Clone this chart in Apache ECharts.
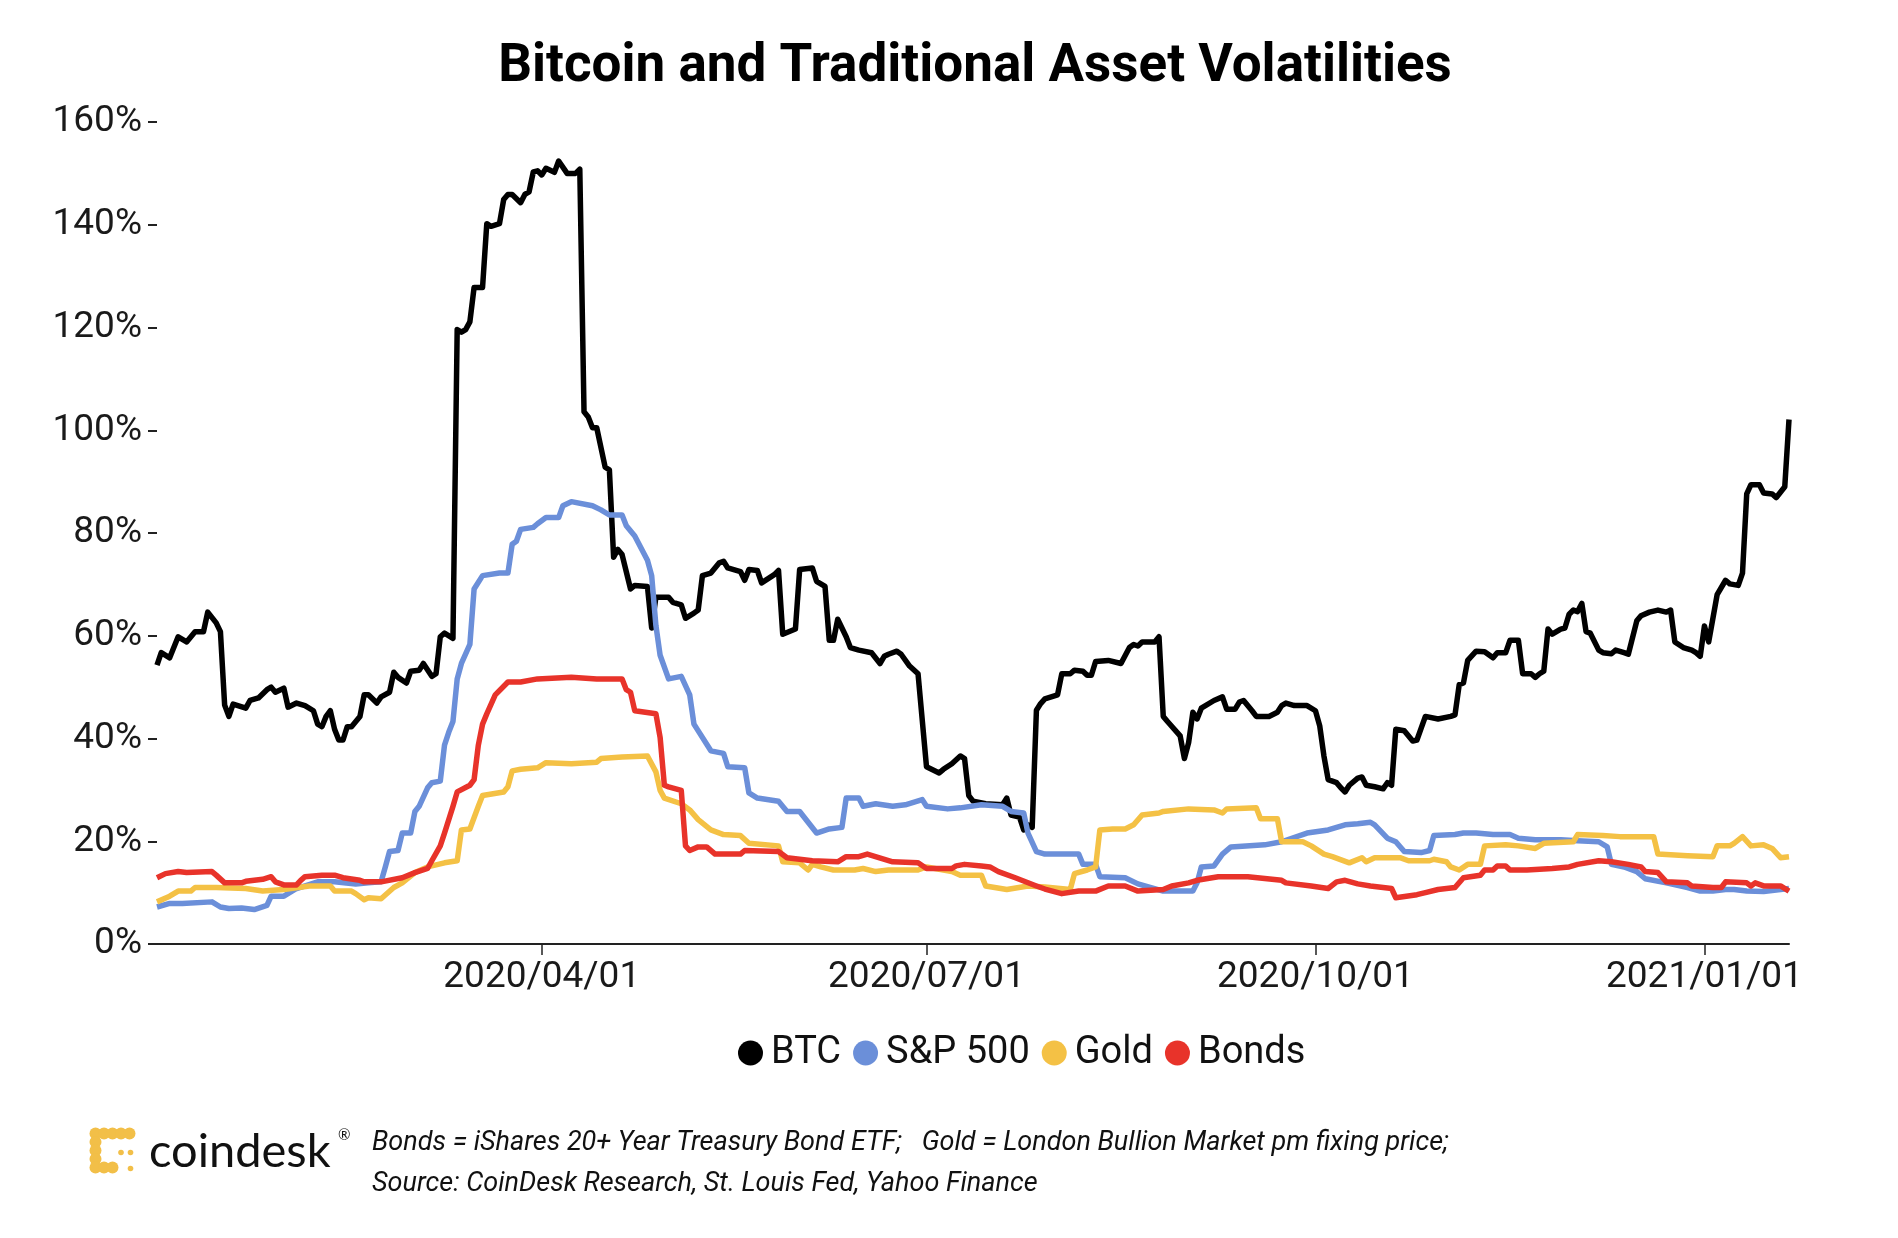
<!DOCTYPE html>
<html><head><meta charset="utf-8">
<script src="https://cdn.jsdelivr.net/npm/echarts@6/dist/echarts.min.js"></script>
<style>html,body{margin:0;padding:0;background:#fff}#c{width:1898px;height:1238px}</style>
</head><body><div id="c"></div>
<script>
const titleText = 'Bitcoin and Traditional Asset Volatilities';
const seriesNames = ['BTC', 'S&P 500', 'Gold', 'Bonds'];
const seriesColors = ['#000000', '#6b8fd9', '#f4c145', '#e8332a'];
const xTickDates = ['2020-04-01', '2020-07-01', '2020-10-01', '2021-01-01'];
const xRange = ['2020-01-01', '2021-01-21'];
const footLine1 = 'Bonds = iShares 20+ Year Treasury Bond ETF;   Gold = London Bullion Market pm fixing price;';
const footLine2 = 'Source: CoinDesk Research, St. Louis Fed, Yahoo Finance';

const btc = [['2020-01-01',54.3],['2020-01-02',56.7],['2020-01-04',55.7],['2020-01-06',59.8],['2020-01-08',58.8],['2020-01-10',60.8],['2020-01-12',60.8],['2020-01-13',64.6],['2020-01-15',62.5],['2020-01-16',60.8],['2020-01-17',46.5],['2020-01-18',44.3],['2020-01-19',46.7],['2020-01-22',45.9],['2020-01-23',47.4],['2020-01-25',47.9],['2020-01-27',49.5],['2020-01-28',50.0],['2020-01-29',49.0],['2020-01-31',49.8],['2020-02-01',46.1],['2020-02-03',46.9],['2020-02-05',46.4],['2020-02-07',45.4],['2020-02-08',42.8],['2020-02-09',42.3],['2020-02-10',44.3],['2020-02-11',45.4],['2020-02-12',41.8],['2020-02-13',39.7],['2020-02-14',39.7],['2020-02-15',42.3],['2020-02-16',42.3],['2020-02-18',44.3],['2020-02-19',48.5],['2020-02-20',48.5],['2020-02-22',46.9],['2020-02-23',48.1],['2020-02-25',49.0],['2020-02-26',52.9],['2020-02-27',51.9],['2020-02-29',50.8],['2020-03-01',53.1],['2020-03-03',53.3],['2020-03-04',54.6],['2020-03-06',52.1],['2020-03-07',52.6],['2020-03-08',59.8],['2020-03-09',60.5],['2020-03-11',59.5],['2020-03-12',119.6],['2020-03-13',119.1],['2020-03-14',119.6],['2020-03-15',121.1],['2020-03-16',127.8],['2020-03-18',127.8],['2020-03-19',140.2],['2020-03-20',139.7],['2020-03-22',140.2],['2020-03-23',144.9],['2020-03-24',145.9],['2020-03-25',145.9],['2020-03-27',144.3],['2020-03-28',145.9],['2020-03-29',146.4],['2020-03-30',150.3],['2020-03-31',150.5],['2020-04-01',149.7],['2020-04-02',151.0],['2020-04-04',150.2],['2020-04-05',152.4],['2020-04-07',150.0],['2020-04-09',150.0],['2020-04-10',150.8],['2020-04-11',103.6],['2020-04-12',102.6],['2020-04-13',100.5],['2020-04-14',100.5],['2020-04-16',92.8],['2020-04-17',92.3],['2020-04-18',75.3],['2020-04-19',76.8],['2020-04-20',75.8],['2020-04-22',69.1],['2020-04-23',69.8],['2020-04-26',69.6],['2020-04-27',61.5],['2020-04-28',67.5],['2020-05-01',67.5],['2020-05-02',66.5],['2020-05-04',66.0],['2020-05-05',63.4],['2020-05-07',64.4],['2020-05-08',65.0],['2020-05-09',71.7],['2020-05-11',72.2],['2020-05-13',74.2],['2020-05-14',74.5],['2020-05-15',73.2],['2020-05-18',72.5],['2020-05-19',70.8],['2020-05-20',72.9],['2020-05-22',72.7],['2020-05-23',70.3],['2020-05-26',71.9],['2020-05-27',72.7],['2020-05-28',60.3],['2020-05-31',61.3],['2020-06-01',72.9],['2020-06-04',73.2],['2020-06-05',70.6],['2020-06-07',69.6],['2020-06-08',59.1],['2020-06-09',59.1],['2020-06-10',63.2],['2020-06-12',59.8],['2020-06-13',57.7],['2020-06-15',57.2],['2020-06-18',56.7],['2020-06-20',54.6],['2020-06-21',56.0],['2020-06-22',56.4],['2020-06-24',57.0],['2020-06-25',56.4],['2020-06-27',54.1],['2020-06-29',52.6],['2020-07-01',34.5],['2020-07-04',33.3],['2020-07-05',34.0],['2020-07-07',35.1],['2020-07-09',36.6],['2020-07-10',36.1],['2020-07-11',28.9],['2020-07-12',27.8],['2020-07-15',27.3],['2020-07-19',27.1],['2020-07-20',28.4],['2020-07-21',25.1],['2020-07-23',24.7],['2020-07-24',22.2],['2020-07-25',23.2],['2020-07-26',22.7],['2020-07-27',45.5],['2020-07-28',46.8],['2020-07-29',47.7],['2020-08-01',48.5],['2020-08-02',52.6],['2020-08-04',52.6],['2020-08-05',53.3],['2020-08-07',53.1],['2020-08-08',52.3],['2020-08-09',52.3],['2020-08-10',55.0],['2020-08-13',55.2],['2020-08-16',54.6],['2020-08-18',57.7],['2020-08-19',58.3],['2020-08-20',58.0],['2020-08-21',58.8],['2020-08-24',58.8],['2020-08-25',59.8],['2020-08-26',44.3],['2020-08-27',43.3],['2020-08-30',40.5],['2020-08-31',36.1],['2020-09-01',39.2],['2020-09-02',45.1],['2020-09-03',43.8],['2020-09-04',45.9],['2020-09-07',47.4],['2020-09-09',48.1],['2020-09-10',45.7],['2020-09-12',45.7],['2020-09-13',47.1],['2020-09-14',47.4],['2020-09-16',45.4],['2020-09-17',44.3],['2020-09-20',44.3],['2020-09-22',45.1],['2020-09-23',46.4],['2020-09-24',46.9],['2020-09-26',46.4],['2020-09-29',46.4],['2020-10-01',45.4],['2020-10-02',42.5],['2020-10-03',36.6],['2020-10-04',32.0],['2020-10-06',31.4],['2020-10-07',30.4],['2020-10-08',29.6],['2020-10-09',30.9],['2020-10-11',32.3],['2020-10-12',32.5],['2020-10-13',30.9],['2020-10-15',30.6],['2020-10-17',30.2],['2020-10-18',31.4],['2020-10-19',30.9],['2020-10-20',41.8],['2020-10-22',41.5],['2020-10-24',39.5],['2020-10-25',39.7],['2020-10-27',44.3],['2020-10-30',43.8],['2020-11-02',44.3],['2020-11-03',44.6],['2020-11-04',50.5],['2020-11-05',50.8],['2020-11-06',55.2],['2020-11-08',57.0],['2020-11-10',56.9],['2020-11-12',55.7],['2020-11-13',56.7],['2020-11-15',56.7],['2020-11-16',59.1],['2020-11-18',59.1],['2020-11-19',52.6],['2020-11-21',52.6],['2020-11-22',51.9],['2020-11-23',52.6],['2020-11-24',53.1],['2020-11-25',61.3],['2020-11-26',60.3],['2020-11-28',61.3],['2020-11-29',61.5],['2020-11-30',64.2],['2020-12-01',65.0],['2020-12-02',64.7],['2020-12-03',66.3],['2020-12-04',60.8],['2020-12-05',60.5],['2020-12-07',57.2],['2020-12-08',56.7],['2020-12-10',56.5],['2020-12-11',57.2],['2020-12-13',56.7],['2020-12-14',56.4],['2020-12-16',62.9],['2020-12-17',63.9],['2020-12-19',64.6],['2020-12-21',65.0],['2020-12-23',64.6],['2020-12-24',65.0],['2020-12-25',58.8],['2020-12-27',57.7],['2020-12-29',57.2],['2020-12-30',56.7],['2020-12-31',56.0],['2021-01-01',61.9],['2021-01-02',58.8],['2021-01-04',68.0],['2021-01-06',70.8],['2021-01-07',70.1],['2021-01-09',69.8],['2021-01-10',72.2],['2021-01-11',87.6],['2021-01-12',89.4],['2021-01-14',89.4],['2021-01-15',87.8],['2021-01-17',87.6],['2021-01-18',86.9],['2021-01-20',89.0],['2021-01-21',102.1]];

const sp500 = [['2020-01-01',7.2],['2020-01-04',7.9],['2020-01-07',7.9],['2020-01-14',8.2],['2020-01-16',7.2],['2020-01-18',6.9],['2020-01-21',7.0],['2020-01-24',6.7],['2020-01-27',7.5],['2020-01-28',9.3],['2020-01-31',9.3],['2020-02-03',10.8],['2020-02-08',12.1],['2020-02-12',12.1],['2020-02-17',11.7],['2020-02-20',11.9],['2020-02-23',12.1],['2020-02-24',15.0],['2020-02-25',18.0],['2020-02-27',18.2],['2020-02-28',21.6],['2020-03-01',21.6],['2020-03-02',25.8],['2020-03-03',26.8],['2020-03-05',30.4],['2020-03-06',31.4],['2020-03-08',31.7],['2020-03-09',38.7],['2020-03-10',41.2],['2020-03-11',43.3],['2020-03-12',51.6],['2020-03-13',54.6],['2020-03-15',58.3],['2020-03-16',69.1],['2020-03-18',71.7],['2020-03-22',72.2],['2020-03-24',72.2],['2020-03-25',77.8],['2020-03-26',78.4],['2020-03-27',80.7],['2020-03-30',81.1],['2020-03-31',81.8],['2020-04-02',83.0],['2020-04-05',83.0],['2020-04-06',85.3],['2020-04-08',86.1],['2020-04-13',85.3],['2020-04-15',84.5],['2020-04-17',83.5],['2020-04-20',83.5],['2020-04-21',81.4],['2020-04-23',79.4],['2020-04-26',74.7],['2020-04-27',71.7],['2020-04-28',62.0],['2020-04-29',56.2],['2020-05-01',51.6],['2020-05-04',52.1],['2020-05-06',48.5],['2020-05-07',42.8],['2020-05-11',37.6],['2020-05-14',37.1],['2020-05-15',34.5],['2020-05-19',34.3],['2020-05-20',29.4],['2020-05-22',28.4],['2020-05-27',27.8],['2020-05-29',25.8],['2020-06-01',25.8],['2020-06-03',23.7],['2020-06-05',21.6],['2020-06-08',22.4],['2020-06-11',22.7],['2020-06-12',28.4],['2020-06-15',28.4],['2020-06-16',26.8],['2020-06-19',27.3],['2020-06-23',26.8],['2020-06-26',27.1],['2020-06-30',28.1],['2020-07-01',26.8],['2020-07-06',26.3],['2020-07-09',26.5],['2020-07-14',27.1],['2020-07-19',26.8],['2020-07-21',25.8],['2020-07-24',25.5],['2020-07-25',21.6],['2020-07-27',18.0],['2020-07-29',17.5],['2020-08-06',17.5],['2020-08-07',15.5],['2020-08-10',15.5],['2020-08-11',13.1],['2020-08-17',12.9],['2020-08-20',11.7],['2020-08-26',10.3],['2020-09-02',10.3],['2020-09-03',11.9],['2020-09-04',15.0],['2020-09-07',15.2],['2020-09-09',17.5],['2020-09-11',18.9],['2020-09-19',19.3],['2020-09-23',19.9],['2020-09-29',21.6],['2020-10-04',22.2],['2020-10-08',23.2],['2020-10-11',23.4],['2020-10-14',23.7],['2020-10-15',23.2],['2020-10-18',20.6],['2020-10-20',19.9],['2020-10-22',18.0],['2020-10-26',17.8],['2020-10-28',18.2],['2020-10-29',21.1],['2020-11-03',21.3],['2020-11-05',21.6],['2020-11-08',21.6],['2020-11-12',21.3],['2020-11-16',21.3],['2020-11-18',20.6],['2020-11-22',20.3],['2020-11-28',20.3],['2020-12-02',20.1],['2020-12-07',19.9],['2020-12-09',18.9],['2020-12-10',15.5],['2020-12-13',15.0],['2020-12-16',14.1],['2020-12-18',12.7],['2020-12-23',11.9],['2020-12-28',11.0],['2020-12-31',10.3],['2021-01-03',10.3],['2021-01-06',10.6],['2021-01-08',10.6],['2021-01-11',10.3],['2021-01-15',10.2],['2021-01-21',10.8]];

const gold = [['2020-01-01',8.2],['2020-01-04',9.3],['2020-01-06',10.3],['2020-01-09',10.3],['2020-01-10',11.0],['2020-01-15',11.0],['2020-01-22',10.8],['2020-01-26',10.3],['2020-01-31',10.6],['2020-02-06',11.3],['2020-02-11',11.3],['2020-02-12',10.3],['2020-02-16',10.3],['2020-02-17',9.8],['2020-02-19',8.6],['2020-02-20',9.0],['2020-02-23',8.8],['2020-02-26',11.0],['2020-02-28',11.9],['2020-03-02',13.9],['2020-03-05',15.0],['2020-03-09',15.8],['2020-03-12',16.2],['2020-03-13',22.2],['2020-03-15',22.4],['2020-03-17',26.8],['2020-03-18',28.9],['2020-03-23',29.6],['2020-03-24',30.6],['2020-03-25',33.7],['2020-03-27',34.0],['2020-03-31',34.3],['2020-04-02',35.3],['2020-04-08',35.1],['2020-04-14',35.4],['2020-04-15',36.1],['2020-04-20',36.4],['2020-04-26',36.6],['2020-04-28',33.5],['2020-04-29',29.9],['2020-04-30',28.4],['2020-05-04',27.3],['2020-05-06',26.1],['2020-05-08',24.2],['2020-05-11',22.2],['2020-05-14',21.3],['2020-05-18',21.1],['2020-05-20',19.6],['2020-05-27',19.1],['2020-05-28',16.0],['2020-06-01',15.8],['2020-06-03',14.4],['2020-06-04',15.5],['2020-06-06',15.0],['2020-06-09',14.4],['2020-06-14',14.4],['2020-06-16',14.7],['2020-06-19',14.1],['2020-06-22',14.4],['2020-06-29',14.4],['2020-07-01',15.0],['2020-07-07',14.1],['2020-07-09',13.4],['2020-07-14',13.4],['2020-07-15',11.3],['2020-07-20',10.6],['2020-07-25',11.3],['2020-07-29',11.1],['2020-08-04',10.6],['2020-08-05',13.7],['2020-08-08',14.4],['2020-08-10',15.0],['2020-08-11',22.2],['2020-08-14',22.4],['2020-08-17',22.4],['2020-08-19',23.2],['2020-08-21',25.1],['2020-08-25',25.5],['2020-08-26',25.8],['2020-09-01',26.3],['2020-09-07',26.1],['2020-09-09',25.5],['2020-09-10',26.3],['2020-09-17',26.5],['2020-09-18',24.4],['2020-09-22',24.4],['2020-09-23',19.9],['2020-09-28',19.9],['2020-09-30',19.1],['2020-10-03',17.5],['2020-10-05',17.0],['2020-10-09',15.8],['2020-10-12',16.8],['2020-10-13',16.0],['2020-10-15',16.8],['2020-10-21',16.8],['2020-10-23',16.2],['2020-10-28',16.2],['2020-10-29',16.5],['2020-11-01',16.0],['2020-11-02',15.0],['2020-11-04',14.4],['2020-11-06',15.5],['2020-11-09',15.5],['2020-11-10',19.1],['2020-11-15',19.3],['2020-11-18',19.1],['2020-11-22',18.6],['2020-11-24',19.6],['2020-12-01',19.9],['2020-12-02',21.3],['2020-12-08',21.1],['2020-12-12',20.9],['2020-12-20',20.9],['2020-12-21',17.5],['2020-12-28',17.2],['2021-01-03',17.0],['2021-01-04',19.1],['2021-01-07',19.1],['2021-01-08',19.6],['2021-01-10',20.9],['2021-01-12',19.1],['2021-01-15',19.3],['2021-01-17',18.6],['2021-01-19',16.8],['2021-01-21',17.0]];

const bonds = [['2020-01-01',12.9],['2020-01-03',13.7],['2020-01-06',14.1],['2020-01-08',13.9],['2020-01-14',14.1],['2020-01-15',13.4],['2020-01-17',11.9],['2020-01-21',11.9],['2020-01-22',12.2],['2020-01-26',12.6],['2020-01-28',13.1],['2020-01-29',12.1],['2020-01-31',11.5],['2020-02-03',11.5],['2020-02-04',12.4],['2020-02-05',13.1],['2020-02-09',13.4],['2020-02-12',13.4],['2020-02-14',12.9],['2020-02-18',12.4],['2020-02-19',12.1],['2020-02-23',12.1],['2020-02-28',12.9],['2020-03-02',13.9],['2020-03-05',14.7],['2020-03-06',16.2],['2020-03-08',19.1],['2020-03-09',21.6],['2020-03-11',26.8],['2020-03-12',29.6],['2020-03-15',30.9],['2020-03-16',32.0],['2020-03-17',38.7],['2020-03-18',42.8],['2020-03-19',44.8],['2020-03-21',48.5],['2020-03-24',51.0],['2020-03-27',51.0],['2020-03-31',51.6],['2020-04-08',51.9],['2020-04-14',51.6],['2020-04-20',51.6],['2020-04-21',49.5],['2020-04-22',49.0],['2020-04-23',45.4],['2020-04-28',44.8],['2020-04-29',40.2],['2020-04-30',30.9],['2020-05-01',30.6],['2020-05-04',29.9],['2020-05-05',19.1],['2020-05-06',18.2],['2020-05-08',18.9],['2020-05-10',18.9],['2020-05-12',17.5],['2020-05-18',17.5],['2020-05-19',18.2],['2020-05-27',18.0],['2020-05-29',16.8],['2020-06-04',16.2],['2020-06-10',16.0],['2020-06-12',17.0],['2020-06-15',17.0],['2020-06-17',17.5],['2020-06-23',16.0],['2020-06-29',15.8],['2020-07-01',14.7],['2020-07-07',14.7],['2020-07-08',15.2],['2020-07-10',15.5],['2020-07-14',15.2],['2020-07-16',15.0],['2020-07-18',14.1],['2020-07-22',12.9],['2020-07-27',11.3],['2020-07-29',10.7],['2020-08-02',9.8],['2020-08-06',10.3],['2020-08-10',10.3],['2020-08-13',11.3],['2020-08-17',11.3],['2020-08-20',10.3],['2020-08-26',10.6],['2020-08-28',11.3],['2020-09-01',11.9],['2020-09-03',12.4],['2020-09-08',13.1],['2020-09-15',13.1],['2020-09-23',12.4],['2020-09-24',11.9],['2020-09-30',11.3],['2020-10-04',10.8],['2020-10-06',12.1],['2020-10-08',12.4],['2020-10-11',11.7],['2020-10-14',11.3],['2020-10-19',10.8],['2020-10-20',9.0],['2020-10-25',9.6],['2020-10-27',10.0],['2020-10-30',10.6],['2020-11-03',11.0],['2020-11-05',12.9],['2020-11-09',13.4],['2020-11-10',14.4],['2020-11-12',14.4],['2020-11-13',15.2],['2020-11-15',15.2],['2020-11-16',14.4],['2020-11-20',14.4],['2020-11-26',14.7],['2020-11-30',15.0],['2020-12-02',15.5],['2020-12-07',16.2],['2020-12-10',16.0],['2020-12-14',15.5],['2020-12-17',15.0],['2020-12-18',14.1],['2020-12-21',13.9],['2020-12-23',12.1],['2020-12-28',11.9],['2020-12-29',11.3],['2021-01-03',11.0],['2021-01-05',11.0],['2021-01-06',12.1],['2021-01-11',11.9],['2021-01-12',11.3],['2021-01-13',11.9],['2021-01-15',11.3],['2021-01-19',11.3],['2021-01-21',10.3]];

const seriesData = [btc, sp500, gold, bonds];

function toTime(s) { const p = s.split('-').map(Number); return Date.UTC(p[0], p[1] - 1, p[2]); }
function pad(n) { return (n < 10 ? '0' : '') + n; }
function fmtDate(v) { const d = new Date(v); return d.getUTCFullYear() + '/' + pad(d.getUTCMonth() + 1) + '/' + pad(d.getUTCDate()); }

const tickTimes = xTickDates.map(toTime);
const GOLD = '#f2bf48';

const logoParts = [];
[[95.5,1133.5,6],[104,1133.5,6],[112.5,1133.5,6],[121,1133.5,6],[129.5,1133.5,6],
 [95.5,1142,6],[95.5,1150.5,6],[95.5,1159,6],[95.5,1167.5,6],[104,1167.5,6],[112.5,1167.5,6],
 [121,1152.5,2.8],[130.5,1152.5,2.8],[130.5,1168.5,2.8]].forEach(c => {
  logoParts.push({ type: 'circle', shape: { cx: c[0], cy: c[1], r: c[2] }, style: { fill: GOLD } });
});

const chart = echarts.init(document.getElementById('c'), null, { renderer: 'canvas' });
chart.setOption({
  animation: false,
  backgroundColor: '#ffffff',
  textStyle: { fontFamily: 'Roboto' },
  grid: { left: 157, right: 109, top: 122, bottom: 294, containLabel: false },
  legend: {
    data: seriesNames,
    left: 733, top: 1029,
    icon: 'circle', itemWidth: 25, itemHeight: 25, itemGap: 12,
    textStyle: { fontSize: 38, color: '#111', fontFamily: 'Roboto', padding: [0, 0, 0, 3] }
  },
  xAxis: {
    type: 'value',
    min: toTime(xRange[0]), max: toTime(xRange[1]),
    axisLine: { show: true, lineStyle: { color: '#222', width: 2 } },
    axisTick: { show: true, customValues: tickTimes, length: 11, lineStyle: { color: '#222', width: 1.5 } },
    axisLabel: { customValues: tickTimes, formatter: fmtDate, fontSize: 37, color: '#1a1a1a', margin: 15, fontFamily: 'Roboto' },
    splitLine: { show: false }
  },
  yAxis: {
    type: 'value', min: 0, max: 160, interval: 20,
    axisLine: { show: false },
    axisTick: { show: true, length: 9, lineStyle: { color: '#222', width: 2 } },
    axisLabel: { formatter: '{value}%', fontSize: 37, color: '#1a1a1a', margin: 15, fontFamily: 'Roboto' },
    splitLine: { show: false }
  },
  series: seriesNames.map((name, i) => ({
    name: name, type: 'line', showSymbol: false, symbol: 'circle',
    itemStyle: { color: seriesColors[i] },
    lineStyle: { color: seriesColors[i], width: 5.5, join: 'round' },
    data: seriesData[i].map(p => [toTime(p[0]), p[1]])
  })),
  graphic: [
    { type: 'text', x: 975, y: 68, style: { text: titleText, fontSize: 53, fontWeight: 'bold', fontFamily: 'Roboto', fill: '#000', align: 'center', verticalAlign: 'middle' } },
    { type: 'group', children: logoParts },
    { type: 'text', x: 149, y: 1152, style: { text: 'coindesk', fontSize: 47, fontFamily: 'Lato', fill: '#111', align: 'left', verticalAlign: 'middle' } },
    { type: 'text', x: 338, y: 1135, style: { text: '\u00AE', fontSize: 15, fontFamily: 'Lato', fill: '#111', align: 'left', verticalAlign: 'middle' } },
    { type: 'text', x: 372, y: 1143, style: { text: footLine1, fontSize: 27, fontStyle: 'italic', fontFamily: 'Roboto', fill: '#111', align: 'left', verticalAlign: 'middle' } },
    { type: 'text', x: 372, y: 1184, style: { text: footLine2, fontSize: 27, fontStyle: 'italic', fontFamily: 'Roboto', fill: '#111', align: 'left', verticalAlign: 'middle' } }
  ]
});
</script></body></html>
